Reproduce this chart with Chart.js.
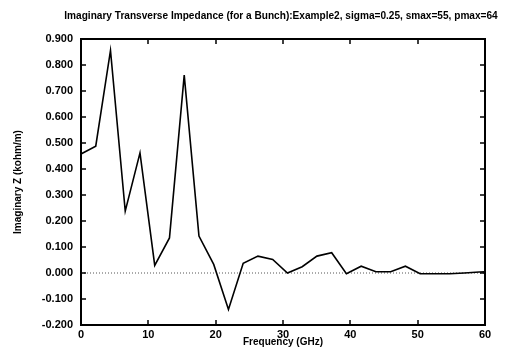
<!DOCTYPE html>
<html>
<head>
<meta charset="utf-8">
<script src="https://cdn.jsdelivr.net/npm/chart.js@4"></script>
<style>
  html, body { margin: 0; padding: 0; background: #fff; }
  #wrap { width: 505px; height: 350px; }
</style>
</head>
<body>
<div id="wrap"><canvas id="impChart" width="505" height="350"></canvas></div>
<script>
// frequency (GHz) of each computed point
const freqs = [0, 2.19, 4.38, 6.57, 8.76, 10.95, 13.14, 15.33, 17.52, 19.71,
               21.9, 24.09, 26.28, 28.47, 30.66, 32.85, 35.04, 37.23, 39.42, 41.61,
               43.8, 45.99, 48.18, 50.37, 52.56, 54.75, 56.94, 59.13, 61.32];
// imaginary Z (kohm/m)
const imagZ = [0.458, 0.488, 0.856, 0.238, 0.462, 0.029, 0.135, 0.761, 0.142, 0.033,
               -0.140, 0.037, 0.065, 0.052, 0.000, 0.024, 0.065, 0.078, -0.003, 0.026,
               0.005, 0.005, 0.026, -0.003, -0.003, -0.003, 0.000, 0.004, 0.005];
const zeroLineX = [0, 60];
const zeroLineY = [0, 0];

const xRange = [0, 60];
const yRange = [-0.2, 0.9];

const TITLE = 'Imaginary Transverse Impedance (for a Bunch):Example2, sigma=0.25, smax=55, pmax=64';
const FONT = 'Liberation Sans, Arial, Helvetica, sans-serif';

// gnuplot-like frame: inward tick marks on all four sides, title centred over the plot
const framePlugin = {
    id: 'frame',
    afterDatasetsDraw(chart) {
        const { ctx, chartArea: a, scales: { x, y } } = chart;
        ctx.save();
        ctx.strokeStyle = '#000';
        ctx.lineWidth = 1.5;
        ctx.beginPath();
        y.ticks.forEach(t => {
            const py = Math.round(y.getPixelForValue(t.value));
            ctx.moveTo(a.left, py); ctx.lineTo(a.left + 5, py);
            ctx.moveTo(a.right, py); ctx.lineTo(a.right - 5, py);
        });
        x.ticks.forEach(t => {
            const px = Math.round(x.getPixelForValue(t.value));
            ctx.moveTo(px, a.bottom); ctx.lineTo(px, a.bottom - 5);
            ctx.moveTo(px, a.top); ctx.lineTo(px, a.top + 5);
        });
        ctx.stroke();
        ctx.lineWidth = 2;
        ctx.strokeRect(a.left, a.top, a.right - a.left, a.bottom - a.top);

        ctx.fillStyle = '#000';
        ctx.font = 'bold 10.1px ' + FONT;
        ctx.textAlign = 'center';
        ctx.textBaseline = 'middle';
        ctx.fillText(TITLE, (a.left + a.right) / 2 - 2, 16);
        ctx.restore();
    }
};

new Chart(document.getElementById('impChart'), {
    type: 'line',
    data: {
        datasets: [{
            data: freqs.map((f, i) => ({ x: f, y: imagZ[i] })),
            borderColor: '#000',
            borderWidth: 1.6,
            pointRadius: 0,
            tension: 0
        }, {
            data: zeroLineX.map((f, i) => ({ x: f, y: zeroLineY[i] })),
            borderColor: '#555',
            borderWidth: 1,
            borderDash: [1, 2],
            pointRadius: 0
        }]
    },
    options: {
        responsive: false,
        animation: false,
        layout: { padding: { left: 0, right: 20, top: 39, bottom: 0 } },
        plugins: {
            legend: { display: false },
            tooltip: { enabled: false },
            title: { display: false }
        },
        scales: {
            x: {
                type: 'linear',
                min: xRange[0],
                max: xRange[1],
                grid: { display: false, drawTicks: false },
                border: { display: false },
                ticks: { stepSize: 10, color: '#000', padding: 3, maxRotation: 0,
                         font: { family: FONT, size: 11, weight: 'bold' } },
                title: { display: true, text: 'Frequency (GHz)', color: '#000',
                         font: { family: FONT, size: 10, weight: 'bold' },
                         padding: { top: 0, bottom: 2 } },
                afterFit: s => { s.height = 25; }
            },
            y: {
                min: yRange[0],
                max: yRange[1],
                grid: { display: false, drawTicks: false },
                border: { display: false },
                ticks: { stepSize: 0.1, color: '#000', padding: 8,
                         font: { family: FONT, size: 11, weight: 'bold' },
                         callback: v => v.toFixed(3) },
                title: { display: true, text: 'Imaginary Z (kohm/m)', color: '#000',
                         font: { family: FONT, size: 10, weight: 'bold' },
                         padding: { top: 12, bottom: 0 } },
                afterFit: s => { s.width = 81; }
            }
        }
    },
    plugins: [framePlugin]
});
</script>
</body>
</html>
